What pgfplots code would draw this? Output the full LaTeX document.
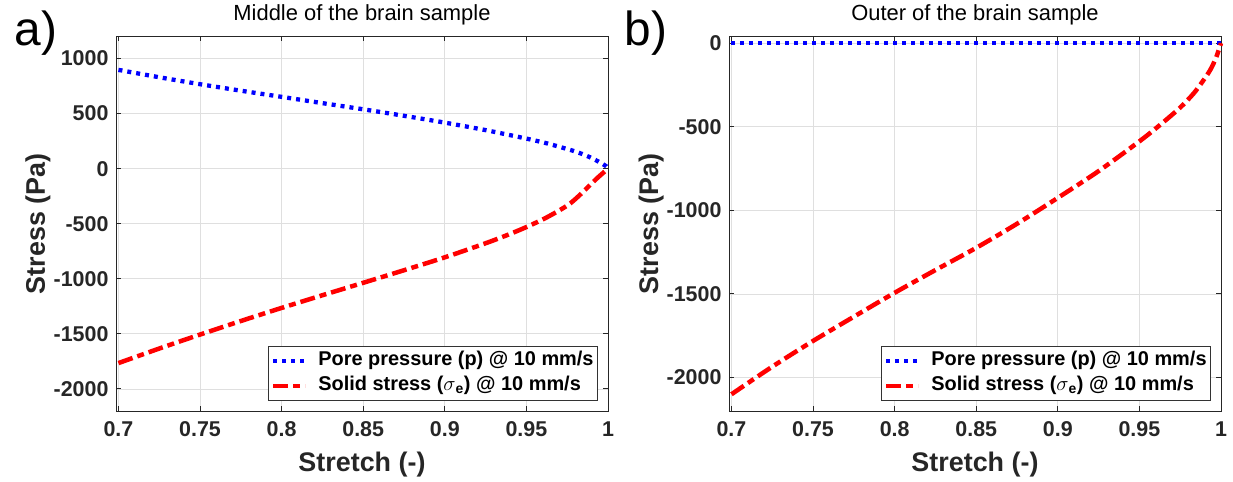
\documentclass[border=0pt]{standalone}
\usepackage{fontspec}
\setmainfont{Liberation Sans}
\usepackage{pgfplots}
\pgfplotsset{compat=1.18}
\definecolor{tickgray}{RGB}{38,38,38}
\definecolor{gridgray}{RGB}{223,223,223}
\pgfplotsset{
  panel/.style={
    scale only axis, width=492bp, height=374.5bp, anchor=south west,
    xmin=0.6985, xmax=1, clip=false,
    xtick={0.7,0.75,0.8,0.85,0.9,0.95,1},
    xticklabels={0.7,0.75,0.8,0.85,0.9,0.95,1},
    grid=major, major grid style={gridgray, line width=0.8bp},
    axis line style={black!85, line width=1bp},
    tick style={black!85, line width=1bp},
    major tick length=5bp, tick align=inside,
    ticklabel style={font=\bfseries\fontsize{21.5}{25}\selectfont, text=tickgray},
    xticklabel style={yshift=-7bp},
    yticklabel style={xshift=-4bp},
    xlabel={Stretch (-)}, ylabel={Stress (Pa)},
    label style={font=\bfseries\fontsize{27}{31}\selectfont, text=tickgray},
    xlabel style={at={(axis description cs:0.5,0)}, anchor=base, yshift=-60.7bp},
    ylabel style={at={([xshift=-71bp]axis description cs:0,0.5)}, anchor=base},
    title style={at={(axis description cs:0.5,1)}, anchor=base, yshift=10bp, font=\fontsize{22}{26}\selectfont},
    legend cell align=left,
    legend style={at={(axis description cs:1,0)}, anchor=south east, xshift=-10bp, yshift=10bp,
      draw=black!80, line width=0.8bp, fill=white,
      font=\bfseries\fontsize{20}{24}\selectfont,
      inner xsep=2bp, inner ysep=2bp, row sep=0bp, column sep=9bp,
      nodes={inner sep=2bp, text height=15bp, text depth=6bp}},
    legend image code/.code={\draw[#1] (0bp,0bp) -- (32bp,0bp);},
  },
  porestyle/.style={color=blue, line width=4.3bp, dash pattern=on 4bp off 5bp, line cap=butt},
  solidstyle/.style={color=red, line width=4.5bp, dash pattern=on 15bp off 5bp on 7bp off 5bp, line cap=butt},
}
\pgfplotstableread{
x y
0.7 897
0.725 830
0.75 767
0.775 708
0.8 652
0.825 595
0.85 539
0.875 480
0.9 418
0.925 350
0.95 273
0.962 232
0.9732 186
0.9787 162
0.9839 135
0.9892 102
0.9943 63
0.999 21
1 0
}\poreA
\pgfplotstableread{
x y
0.7 -1765
0.725 -1633
0.75 -1506
0.775 -1383
0.8 -1264
0.825 -1149
0.85 -1036
0.875 -922
0.9 -805
0.925 -677
0.9375 -607
0.95 -530
0.9625 -442
0.975 -335
0.9814 -257
0.9875 -170
0.9938 -80
1 0
}\solidA
\pgfplotstableread{
x y
0.7 0
0.85 0
1 0
}\poreB
\pgfplotstableread{
x y
0.7 -2100
0.725 -1935
0.75 -1781
0.775 -1636
0.8 -1493
0.825 -1357
0.85 -1224
0.875 -1080
0.9 -925
0.925 -765
0.95 -587
0.9625 -490
0.975 -385
0.9831 -302
0.9882 -236
0.9933 -162
0.997 -86
1 0
}\solidB
\begin{document}
\begin{tikzpicture}
\useasboundingbox (0,0) rectangle (1233bp,482bp);
\begin{axis}[panel, at={(116bp,71bp)},
  ymin=-2200, ymax=1200,
  ytick={-2000,-1500,-1000,-500,0,500,1000},
  yticklabels={-2000,-1500,-1000,-500,0,500,1000},
  title={Middle of the brain sample}]
\addplot[porestyle, smooth] table {\poreA};
\addlegendentry{Pore pressure (p) @ 10 mm/s}
\addplot[solidstyle, smooth] table {\solidA};
\addlegendentry{Solid stress (\(\sigma\)\textsubscript{e}) @ 10 mm/s}
\end{axis}
\begin{axis}[panel, at={(729bp,71bp)},
  ymin=-2200, ymax=40,
  ytick={-2000,-1500,-1000,-500,0},
  yticklabels={-2000,-1500,-1000,-500,0},
  title={Outer of the brain sample}]
\addplot[porestyle] table {\poreB};
\addlegendentry{Pore pressure (p) @ 10 mm/s}
\addplot[solidstyle, smooth] table {\solidB};
\addlegendentry{Solid stress (\(\sigma\)\textsubscript{e}) @ 10 mm/s}
\end{axis}
\node[anchor=base west, font=\fontsize{48}{52}\selectfont] at (11bp,436bp) {a)};
\node[anchor=base west, font=\fontsize{48}{52}\selectfont] at (621bp,436bp) {b)};
\end{tikzpicture}
\end{document}
